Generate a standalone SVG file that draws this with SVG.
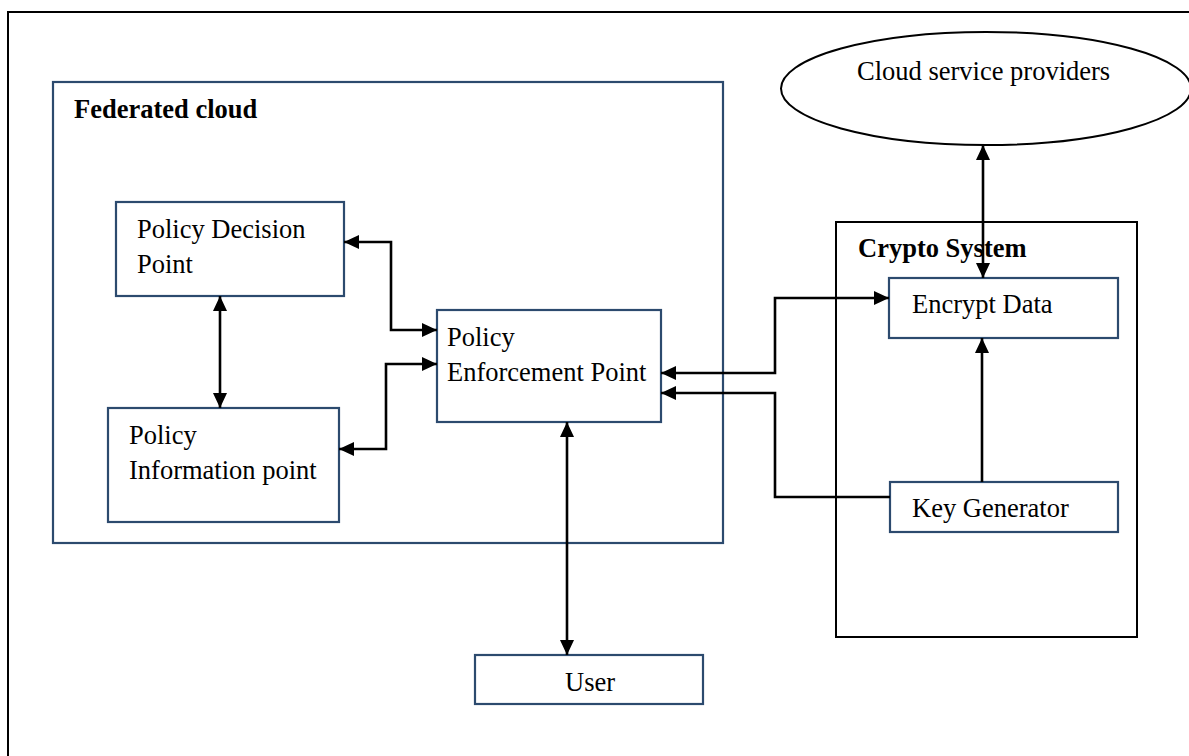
<svg xmlns="http://www.w3.org/2000/svg" width="1189" height="756" viewBox="0 0 1189 756">
<style>
.node{fill:#fff;stroke:#2c4a6e;stroke-width:2.2}
.frame{fill:none;stroke:#000;stroke-width:2}
.t{font-family:"Liberation Serif","Times New Roman",serif;font-size:26.5px;fill:#000}
.b{font-weight:bold}
.c{fill:none;stroke:#000;stroke-width:2.6}
</style>
<defs>
<marker id="ah" viewBox="0 0 15 14" refX="15" refY="7" markerWidth="15" markerHeight="14" markerUnits="userSpaceOnUse" orient="auto-start-reverse">
<path d="M0,0 L15,7 L0,14 z" fill="#000"/>
</marker>
</defs>
<rect width="1189" height="756" fill="#fff"/>
<rect x="8" y="12" width="1200" height="760" class="frame"/>
<g id="federated-cloud">
<rect x="53" y="82" width="670" height="461" class="node" fill="none" style="fill:none"/>
<text x="74" y="118" class="t b">Federated cloud</text>
</g>
<g id="crypto-system">
<rect x="836" y="222" width="301" height="415" class="frame"/>
<text x="858" y="257" class="t b">Crypto System</text>
</g>
<g id="cloud-service-providers">
<ellipse cx="986" cy="88.5" rx="205" ry="56.5" fill="#fff" stroke="#000" stroke-width="2"/>
<text x="857" y="80" class="t">Cloud service providers</text>
</g>
<g id="pdp">
<rect x="116" y="202" width="228" height="94" class="node"/>
<text x="137" y="238" class="t">Policy Decision</text>
<text x="137" y="273" class="t">Point</text>
</g>
<g id="pip">
<rect x="108" y="408" width="231" height="114" class="node"/>
<text x="129" y="444" class="t">Policy</text>
<text x="129" y="479" class="t">Information point</text>
</g>
<g id="pep">
<rect x="437" y="310" width="224" height="112" class="node"/>
<text x="447" y="346" class="t">Policy</text>
<text x="447" y="381" class="t">Enforcement Point</text>
</g>
<g id="encrypt-data">
<rect x="889" y="278" width="229" height="60" class="node"/>
<text x="912" y="313" class="t">Encrypt Data</text>
</g>
<g id="key-generator">
<rect x="890" y="482" width="228" height="50" class="node"/>
<text x="912" y="517" class="t">Key Generator</text>
</g>
<g id="user">
<rect x="475" y="655" width="228" height="49" class="node"/>
<text x="565" y="691" class="t">User</text>
</g>
<g id="connectors">
<path d="M344,242 H391 V330 H437" class="c" marker-start="url(#ah)" marker-end="url(#ah)"/>
<path d="M339,449 H386 V364 H437" class="c" marker-start="url(#ah)" marker-end="url(#ah)"/>
<path d="M220,296 V408" class="c" marker-start="url(#ah)" marker-end="url(#ah)"/>
<path d="M661,373 H775 V298 H889" class="c" marker-start="url(#ah)" marker-end="url(#ah)"/>
<path d="M890,497 H775 V393 H661" class="c" marker-end="url(#ah)"/>
<path d="M982,482 V338" class="c" marker-end="url(#ah)"/>
<path d="M983,145 V278" class="c" marker-start="url(#ah)" marker-end="url(#ah)"/>
<path d="M567,422 V655" class="c" marker-start="url(#ah)" marker-end="url(#ah)"/>
</g>
</svg>
